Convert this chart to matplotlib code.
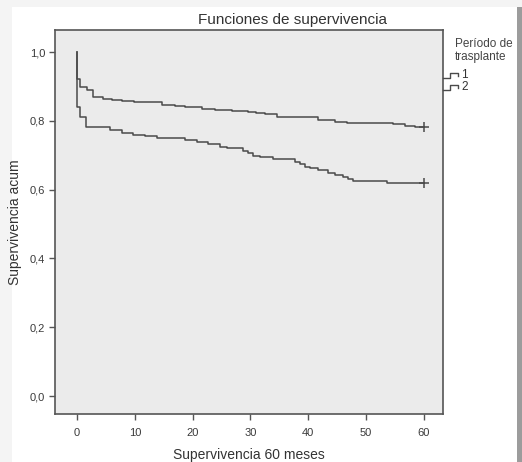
import matplotlib.pyplot as plt
from matplotlib.lines import Line2D
from matplotlib.patches import Rectangle

plt.rcParams['font.family'] = ['Liberation Sans', 'DejaVu Sans']

# Kaplan-Meier step points (meses, supervivencia acumulada)
t1 = [0, 0, 0.5, 1.7, 2.8, 4.5, 6.1, 7.8, 9.9, 14.7, 17.0, 18.7, 21.6, 23.9, 26.8,
      29.6, 31.0, 32.5, 34.6, 41.7, 44.6, 46.7, 54.7, 56.7, 58.5, 60]
s1 = [1.0, 0.921, 0.898, 0.890, 0.870, 0.863, 0.860, 0.857, 0.855, 0.846, 0.843, 0.840,
      0.834, 0.831, 0.828, 0.826, 0.823, 0.820, 0.812, 0.802, 0.797, 0.794, 0.791,
      0.785, 0.782, 0.782]

t2 = [0, 0, 0.5, 1.6, 5.7, 7.8, 9.7, 11.8, 13.8, 18.7, 20.8, 22.7, 24.7, 26.0, 28.7,
      29.6, 30.4, 31.7, 33.9, 37.7, 38.6, 39.4, 40.3, 41.7, 43.4, 44.6, 46.0, 46.9,
      47.8, 53.6, 60]
s2 = [1.0, 0.840, 0.811, 0.782, 0.772, 0.765, 0.759, 0.756, 0.750, 0.744, 0.738,
      0.733, 0.724, 0.721, 0.712, 0.706, 0.698, 0.695, 0.689, 0.680, 0.674, 0.666,
      0.663, 0.657, 0.648, 0.642, 0.637, 0.631, 0.625, 0.619, 0.619]

grupos = ['1', '2']
yticks = [0.0, 0.2, 0.4, 0.6, 0.8, 1.0]
xticks = [0, 10, 20, 30, 40, 50, 60]

W, H = 522, 462
fig = plt.figure(figsize=(W / 100, H / 100), dpi=100)
fig.patch.set_facecolor('#f4f4f4')

# white panel with shadow on the right
fig.add_artist(Rectangle((12 / W, 0), (505) / W, 1 - 7 / H, transform=fig.transFigure,
                         facecolor='white', edgecolor='none', zorder=0))
fig.add_artist(Rectangle((517 / W, 0), 5 / W, 1 - 7 / H, transform=fig.transFigure,
                         facecolor='#9c9c9c', edgecolor='none', zorder=0))

ax = fig.add_axes([55 / W, 1 - 414 / H, (443 - 55) / W, (414 - 30) / H])
ax.set_facecolor('#ebebeb')

lc = '#4a4a4a'
ax.step(t1, s1, where='post', color=lc, lw=1.1)
ax.step(t2, s2, where='post', color=lc, lw=1.1)
ax.plot([t1[-1]], [s1[-1]], marker='+', color=lc, ms=7, mew=1.1)
ax.plot([t2[-1]], [s2[-1]], marker='+', color=lc, ms=7, mew=1.1)

ax.set_xlim(-3.8, 63.3)
ax.set_ylim(-0.052, 1.064)
ax.set_xticks(xticks)
ax.set_xticklabels([str(v) for v in xticks])
ax.set_yticks(yticks)
ax.set_yticklabels([f'{v:.1f}'.replace('.', ',') for v in yticks])
ax.tick_params(direction='out', length=4, width=1, color='#555555',
               labelsize=8, labelcolor='#3a3a3a', pad=3)
ax.tick_params(axis='x', pad=6)
for sp in ax.spines.values():
    sp.set_color('#555555')
    sp.set_linewidth(1.2)

ax.set_xlabel('Supervivencia 60 meses', fontsize=10, color='#333333', labelpad=7)
ax.set_ylabel('Supervivencia acum', fontsize=10, color='#333333', labelpad=6)

fig.text(293 / W, 1 - 20 / H, 'Funciones de supervivencia', ha='center', va='center',
         fontsize=11, color='#333333')

# legend
fig.text(455 / W, 1 - 38 / H, 'Período de\ntrasplante', ha='left', va='top',
         fontsize=8.5, color='#444444', linespacing=1.1)
for i, g in enumerate(grupos):
    yb = 78 + 12 * i
    xs = [443, 450, 450, 458, 458]
    ys = [yb, yb, yb - 5, yb - 5, yb - 2]
    fig.add_artist(Line2D([x / W for x in xs], [1 - y / H for y in ys],
                          transform=fig.transFigure, color=lc, lw=1.0))
    fig.text(461 / W, 1 - (yb - 3) / H, g, ha='left', va='center', fontsize=8.5,
             color='#333333')

fig.savefig('out.png', dpi=100)
